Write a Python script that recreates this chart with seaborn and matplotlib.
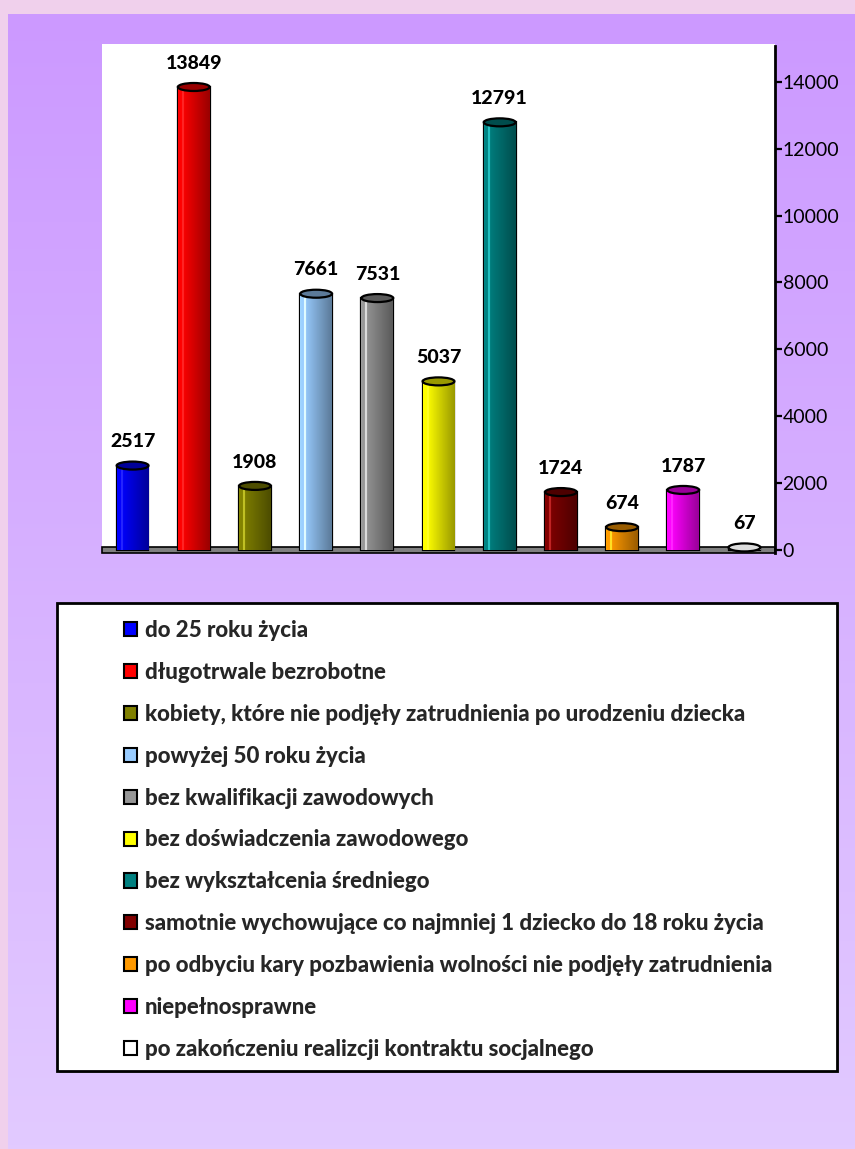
import numpy as np
import matplotlib
matplotlib.use('Agg')
import matplotlib.pyplot as plt
import matplotlib.colors as mcolors
from matplotlib.patches import Patch, Rectangle, Ellipse
import seaborn as sns

# --- DANE ---
categories = [
    'do 25 roku życia',
    'długotrwale bezrobotne',
    'kobiety, które nie podjęły zatrudnienia po urodzeniu dziecka',
    'powyżej 50 roku życia',
    'bez kwalifikacji zawodowych',
    'bez doświadczenia zawodowego',
    'bez wykształcenia średniego',
    'samotnie wychowujące co najmniej 1 dziecko do 18 roku życia',
    'po odbyciu kary pozbawienia wolności nie podjęły zatrudnienia',
    'niepełnosprawne',
    'po zakończeniu realizcji kontraktu socjalnego',
]
values = [2517, 13849, 1908, 7661, 7531, 5037, 12791, 1724, 674, 1787, 67]
colors = ['#0000ff', '#ff0000', '#808000', '#99ccff', '#969696', '#ffff00',
          '#008080', '#800000', '#ff9900', '#ff00ff', '#ffffff']
yticks = [0, 2000, 4000, 6000, 8000, 10000, 12000, 14000]

sns.set_theme(style='white')
plt.rcParams['font.family'] = ['Lato', 'DejaVu Sans']

W, H = 855, 1149
fig = plt.figure(figsize=(W / 100, H / 100), dpi=100)
fig.patch.set_facecolor('#f0d0ec')

# tło z gradientem
bg = fig.add_axes([8 / W, 0, 1 - 8 / W, (H - 14) / H])
bg.set_zorder(-2)
top_c = np.array(mcolors.to_rgb('#cc99ff'))
bot_c = np.array(mcolors.to_rgb('#e2caff'))
t = np.linspace(0, 1, 256)[:, None]
grad = top_c * (1 - t) + bot_c * t
bg.imshow(grad[:, None, :], aspect='auto', extent=(0, 1, 0, 1))
bg.set_axis_off()

# --- WYKRES ---
ax = fig.add_axes([102 / W, 1 - 553 / H, 673 / W, (553 - 44) / H])
ax.set_facecolor('white')
ymin, ymax = -100, 15136

sns.barplot(x=list(range(len(values))), y=values, hue=list(range(len(values))),
            palette=colors, legend=False, width=0.52, edgecolor='black',
            linewidth=1.6, saturation=1, ax=ax, zorder=3)
ax.set_xlim(-0.5, len(values) - 0.5)
ax.set_ylim(ymin, ymax)

bars = []
for cont in ax.containers:
    bars.extend([b for b in cont.patches if b is not None])
bars.sort(key=lambda b: b.get_x())

# podłoga
ax.add_patch(Rectangle((-0.5, ymin), len(values), 170, facecolor='#808080',
                       edgecolor='black', linewidth=1.2, zorder=2, clip_on=False))

# cieniowanie cylindrów
px_per_unit = ax.bbox.height / (ymax - ymin)
ell_h = 8 / px_per_unit
xs = np.linspace(0, 1, 64)
shade = 1.05 - 0.45 * xs
shade[(xs > 0.12) & (xs < 0.18)] = 1.25
for bar, c, v in zip(bars, colors, values):
    base = np.array(mcolors.to_rgb(c))
    img = np.clip(base[None, :] * shade[:, None] + (shade[:, None] > 1.2) * 0.15, 0, 1)
    x0, w, h = bar.get_x(), bar.get_width(), bar.get_height()
    im = ax.imshow(img[None, :, :], aspect='auto', extent=(x0, x0 + w, 0, h),
                   zorder=3.5)
    im.set_clip_path(bar)
    top_col = np.clip(base * 0.6, 0, 1) if c != '#ffffff' else '#dddddd'
    ax.add_patch(Ellipse((x0 + w / 2, h), w, ell_h, facecolor=top_col,
                         edgecolor='black', linewidth=1.6, zorder=4))
    ax.annotate(str(v), (x0 + w / 2, h), xytext=(0, 11), textcoords='offset points',
                ha='center', va='bottom', fontsize=14, fontweight='black',
                color='black')
ax.set_xlim(-0.5, len(values) - 0.5)
ax.set_ylim(ymin, ymax)

ax.yaxis.tick_right()
ax.set_yticks(yticks)
ax.set_yticklabels([str(v) for v in yticks], fontsize=14)
ax.tick_params(axis='y', which='both', right=True, direction='out', length=5,
               width=1.6, color='black', pad=0.5, labelcolor='black')
ax.set_xticks([])
for side in ['top', 'left', 'bottom']:
    ax.spines[side].set_visible(False)
ax.spines['right'].set_color('black')
ax.spines['right'].set_linewidth(2)
ax.spines['right'].set_bounds(ymin, ymax - 60)
ax.set_xlabel('')
ax.set_ylabel('')

# --- LEGENDA ---
fig.add_artist(Rectangle((59 / W, 1 - 1073 / H), 780 / W, 468 / H,
                         transform=fig.transFigure, facecolor='#999999',
                         edgecolor='none', zorder=0))
fig.add_artist(Rectangle((57 / W, 1 - 1071 / H), 780 / W, 468 / H,
                         transform=fig.transFigure, facecolor='white',
                         edgecolor='black', linewidth=2, zorder=1))
handles = [Patch(facecolor=c, edgecolor='black', linewidth=1.5) for c in colors]
leg = fig.legend(handles, categories, loc='upper left',
                 bbox_to_anchor=(124 / W, 1 - 620 / H), frameon=False,
                 prop={'size': 16, 'weight': 'black'}, handlelength=0.6,
                 handleheight=0.6, handletextpad=0.35, labelspacing=0.94,
                 borderpad=0, borderaxespad=0)
leg.set_zorder(2)

fig.savefig('out.png', dpi=100)
